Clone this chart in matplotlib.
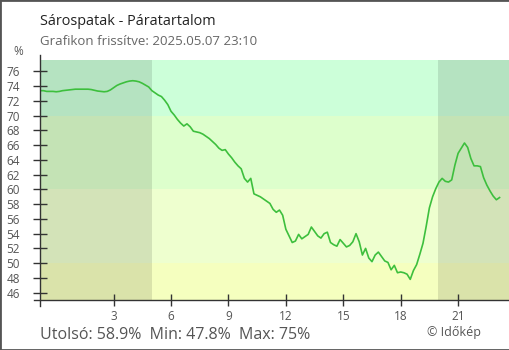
import matplotlib.pyplot as plt
import numpy as np
from matplotlib.patches import Rectangle

plt.rcParams['font.family'] = ['Open Sans', 'DejaVu Sans']

# humidity (%) every 10 minutes, from 23:10 the previous day to 23:10
humidity = [
    73.4, 73.4, 73.3, 73.3, 73.3,                 # 23:10-23:50
    73.25, 73.3, 73.4, 73.45, 73.5, 73.55,        # 00
    73.6, 73.6, 73.6, 73.6, 73.6, 73.55,          # 01
    73.45, 73.35, 73.3, 73.25, 73.3, 73.5,        # 02
    73.8, 74.1, 74.3, 74.45, 74.6, 74.7,          # 03
    74.75, 74.7, 74.6, 74.4, 74.15, 73.9,         # 04
    73.4, 73.1, 72.8, 72.6, 72.1, 71.5,           # 05
    70.6, 70.1, 69.5, 69.0, 68.6, 68.9,           # 06
    68.5, 67.9, 67.8, 67.7, 67.5, 67.2,           # 07
    66.9, 66.5, 66.1, 65.6, 65.3, 65.4,           # 08
    64.8, 64.3, 63.7, 63.2, 62.8, 61.5,           # 09
    61.0, 61.5, 59.4, 59.2, 59.0, 58.7,           # 10
    58.4, 58.1, 57.3, 56.9, 57.2, 56.5,           # 11
    54.6, 53.7, 52.8, 53.0, 53.9, 53.3,           # 12
    53.6, 53.9, 54.9, 54.3, 53.7, 53.4,           # 13
    54.0, 54.2, 52.8, 52.5, 52.3, 53.2,           # 14
    52.7, 52.2, 52.4, 52.9, 54.0, 52.9,           # 15
    51.1, 52.0, 50.7, 50.2, 51.1, 51.5,           # 16
    50.9, 50.3, 50.1, 49.1, 49.7, 48.7,           # 17
    48.8, 48.7, 48.5, 47.8, 49.0, 49.8,           # 18
    51.2, 52.7, 55.0, 57.5, 59.0, 60.1,           # 19
    61.0, 61.5, 61.1, 61.0, 61.3, 63.3,           # 20
    64.9, 65.6, 66.3, 65.7, 64.2, 63.2,           # 21
    63.2, 63.1, 61.6, 60.6, 59.8, 59.1,           # 22
    58.6, 58.9,                                   # 23:00-23:10
]
start_hour = -50 / 60
step_hour = 10 / 60
hours = start_hour + step_hour * np.arange(len(humidity))

sunrise = 5.02
sunset = 19.96
band_edges = [45.0, 50, 60, 70, 77.56]
band_colors = ['#f5ffbf', '#eeffcf', '#ddffcc', '#ccffd9']

x_ticks = [3, 6, 9, 12, 15, 18, 21]
y_ticks = list(range(46, 77, 2))

title = "Sárospatak - Páratartalom"
subtitle = "Grafikon frissítve: 2025.05.07 23:10"
summary = "Utolsó: 58.9%  Min: 47.8%  Max: 75%"

W, H = 510, 350
fig = plt.figure(figsize=(W / 100, H / 100), dpi=100)
ax = fig.add_axes([40.5 / W, 50 / H, 468.5 / W, 240 / H])
xmin, xmax = -0.82, 23.66
ax.set_xlim(xmin, xmax)
ax.set_ylim(band_edges[0], band_edges[-1])

for lo, hi, c in zip(band_edges[:-1], band_edges[1:], band_colors):
    ax.axhspan(lo, hi, color=c, lw=0, zorder=0)
ax.axvspan(xmin, sunrise, color='black', alpha=0.11, lw=0, zorder=1)
ax.axvspan(sunset, xmax, color='black', alpha=0.11, lw=0, zorder=1)

ax.plot(hours, humidity, color='#3dbf3d', lw=1.2, zorder=3)

for s in ax.spines.values():
    s.set_visible(False)
# axis lines drawn by hand so they can stick out of the plot area
ax.plot([0, 0], [-6 / 240, 1 + 5 / 240], transform=ax.transAxes,
        color='#333', lw=1, clip_on=False, zorder=4)
ax.plot([-6.5 / 468.5, 1], [0, 0], transform=ax.transAxes,
        color='#333', lw=1, clip_on=False, zorder=4)

ax.set_xticks(x_ticks)
ax.set_yticks(y_ticks)
ax.tick_params(axis='y', direction='inout', length=9.4, width=1, color='#333',
               labelcolor='#555', labelsize=8.5, pad=10)
ax.tick_params(axis='x', direction='inout', length=8.6, width=1, color='#333',
               labelcolor='#555', labelsize=8.5, pad=3)

fig.text(40 / W, 1 - 25 / H, title, fontsize=10.4, color='#222', va='baseline')
fig.text(40 / W, 1 - 45 / H, subtitle, fontsize=9.5, color='#666', va='baseline')
fig.text(13 / W, 1 - 55 / H, "%", fontsize=8.5, color='#555', va='baseline')
fig.text(40 / W, 1 - 339 / H, summary, fontsize=11.5, color='#555', va='baseline')
fig.text(481 / W, 1 - 336 / H, "© Időkép", fontsize=9, color='#555',
         va='baseline', ha='right')

fig.patches.append(Rectangle((0, 0), 1, 1, transform=fig.transFigure,
                             fill=False, ec='#555', lw=2))

fig.savefig("out.png", dpi=100)
